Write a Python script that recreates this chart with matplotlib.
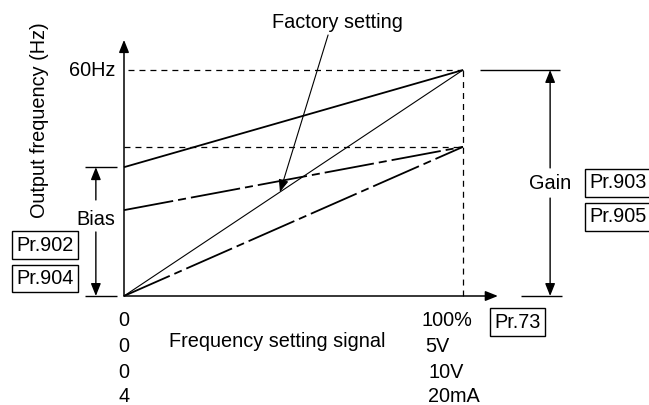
"""frequency setting signal vs output frequency: bias / gain diagram"""

import matplotlib
matplotlib.use("Agg")
import matplotlib.pyplot as plt

###################################################################################################
#                                              DATA                                               #

# frequency setting signal (%), start and end of each line
SIGNAL = [0, 100]

# output frequency (Hz) at 0% and 100% for each line
LINE_UPPER = [34.2, 60.0]       # bias raised, gain at 60Hz (solid)
LINE_MIDDLE = [22.8, 39.6]      # bias raised, gain lowered (dash-dot)
LINE_FACTORY = [0.0, 60.0]      # factory setting (thin solid)
LINE_LOWER = [0.0, 39.6]        # gain lowered (dash-dot)

MAX_HZ = 60.0
GAIN_LOW_HZ = 39.6
BIAS_HZ = 34.2

# tick label rows below the x axis
ROW_ZERO = ["0", "0", "0", "4"]
ROW_FULL = ["100%", "5V", "10V", "20mA"]

#                                              DATA                                               #
###################################################################################################


###################################################################################################
#                                             FIGURE                                              #

plt.rcParams['font.family'] = ['Liberation Sans', 'DejaVu Sans']
plt.rcParams['lines.scale_dashes'] = False
FS = 14.3

fig = plt.figure(figsize=(6.49, 4.05), dpi=100)
# axes placed so that 0..100% / 0..60Hz land on the drawn axes
ax = fig.add_axes([124/649, 109/405, 339/649, 226/405])
ax.set_xlim(0, 100)
ax.set_ylim(0, 60)
ax.axis('off')

K = dict(color='black', clip_on=False, solid_capstyle='butt')
DASH = (0, (4.3, 3.6))
DASHDOT = (0, (36, 3.6, 5.8, 3.6))

# guide lines
ax.plot([1.2, 100], [MAX_HZ, MAX_HZ], lw=0.9, linestyle=DASH, **K)
ax.plot([0, 100], [GAIN_LOW_HZ, GAIN_LOW_HZ], lw=0.9, linestyle=DASH, **K)
ax.plot([100, 100], [0, MAX_HZ], lw=0.9, linestyle=DASH, **K)

# characteristic lines
ax.plot(SIGNAL, LINE_UPPER, lw=1.3, **K)
ax.plot(SIGNAL, LINE_MIDDLE, lw=1.3, linestyle=DASHDOT, **K)
ax.plot(SIGNAL, LINE_FACTORY, lw=0.8, **K)
ax.plot(SIGNAL, LINE_LOWER, lw=1.3, linestyle=DASHDOT, **K)


def arrow(x0, y0, x1, y1, lw=1.0):
    # filled triangular head at (x1, y1)
    ax.annotate('', xy=(x1, y1), xytext=(x0, y0), annotation_clip=False,
                arrowprops=dict(arrowstyle='-|>,head_length=0.75,head_width=0.3',
                                color='black', lw=lw, shrinkA=0, shrinkB=0))


# axes with arrows
arrow(0, 0, 0, 68, lw=1.1)
arrow(0, 0, 110.3, 0, lw=1.1)

# bias marker
ax.plot([-11.5, -2.1], [BIAS_HZ, BIAS_HZ], lw=1.0, **K)
ax.plot([-11.5, -2.1], [0, 0], lw=1.0, **K)
arrow(-8.3, 25.5, -8.3, BIAS_HZ)
arrow(-8.3, 17.0, -8.3, 0)
ax.text(-8.3, 20.4, "Bias", fontsize=FS, ha='center', va='center')

# gain marker
ax.plot([105.0, 128.6], [MAX_HZ, MAX_HZ], lw=1.0, **K)
ax.plot([117.1, 129.2], [0, 0], lw=1.0, **K)
arrow(125.7, 34.0, 125.7, MAX_HZ)
arrow(125.7, 26.0, 125.7, 0)
ax.text(125.7, 29.9, "Gain", fontsize=FS, ha='center', va='center')

# parameter boxes
box = dict(boxstyle='square,pad=0.22', fc='white', ec='black', lw=1.0)
for x, y, s in [(145.6, 30.0, "Pr.903"), (145.6, 21.0, "Pr.905"),
                (-23.2, 13.5, "Pr.902"), (-23.2, 4.65, "Pr.904"),
                (116.1, -7.0, "Pr.73")]:
    ax.text(x, y, s, fontsize=FS, ha='center', va='center', bbox=box)

# labels
ax.text(-2.65, MAX_HZ, "60Hz", fontsize=FS, ha='right', va='center')
ax.text(-24.8, 46.7, "Output frequency (Hz)", fontsize=FS, rotation=90,
        ha='center', va='center')
ax.text(45.1, -12.2, "Frequency setting signal", fontsize=FS, ha='center', va='center')

rows_y = [-6.4, -13.3, -20.2, -26.8]
for i, y in enumerate(rows_y):
    ax.text(0, y, ROW_ZERO[i], fontsize=FS, ha='center', va='center')
ax.text(95.3, rows_y[0], ROW_FULL[0], fontsize=FS, ha='center', va='center')
ax.text(88.8, rows_y[1], ROW_FULL[1], fontsize=FS, ha='left', va='center')
ax.text(89.7, rows_y[2], ROW_FULL[2], fontsize=FS, ha='left', va='center')
ax.text(89.7, rows_y[3], ROW_FULL[3], fontsize=FS, ha='left', va='center')

# factory setting callout
ax.text(63.1, 72.7, "Factory setting", fontsize=FS, ha='center', va='center')
arrow(60.2, 69.3, 46.0, 0.6*46.0, lw=0.8)

fig.savefig("out.png", dpi=100)

#                                             FIGURE                                              #
###################################################################################################
